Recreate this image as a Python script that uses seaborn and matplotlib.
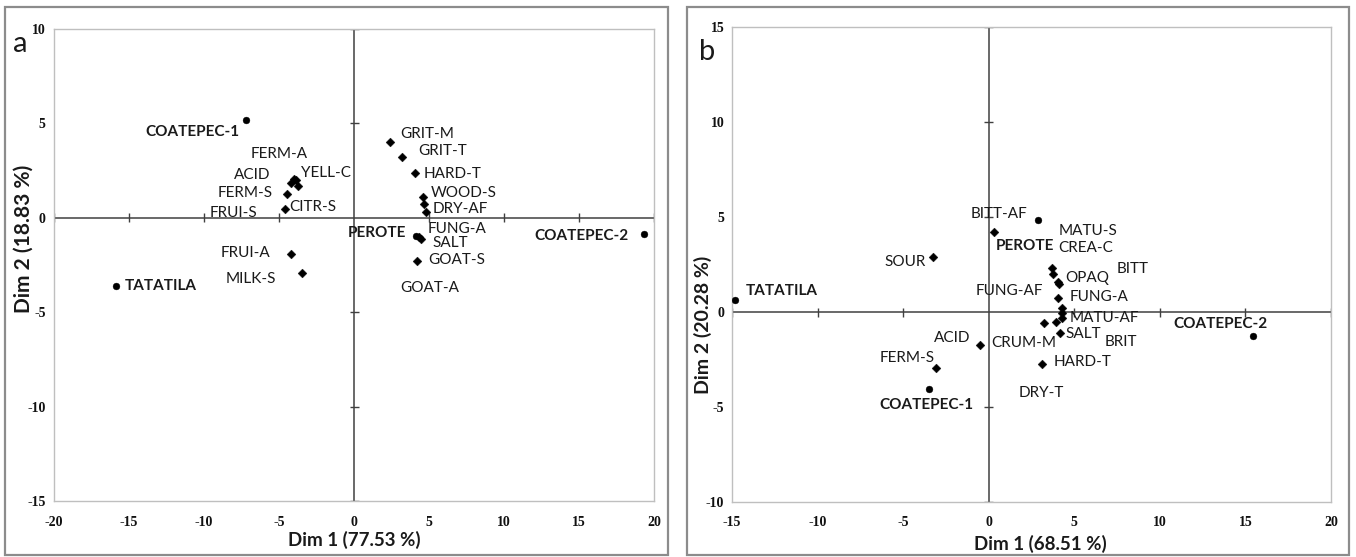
import matplotlib
matplotlib.use("Agg")
import matplotlib.pyplot as plt
from matplotlib.patches import Rectangle
import pandas as pd
import seaborn as sns

# ---- Panel a: PCA biplot (Dim 1 = 77.53 %, Dim 2 = 18.83 %) ----
a_attr_names = ["FERM-A", "ACID", "YELL-C", "FRUI-S", "FERM-S", "CITR-S",
                "FRUI-A", "MILK-S", "GRIT-M", "GRIT-T", "HARD-T", "WOOD-S",
                "DRY-AF", "FUNG-A", "SALT", "GOAT-S", "GOAT-A"]
a_attr_dim1 = [-4.00, -4.20, -3.87, -3.73, -4.47, -4.60,
               -4.20, -3.47, 2.40, 3.20, 4.07, 4.60,
               4.67, 4.80, 4.47, 4.20, 4.30]
a_attr_dim2 = [2.07, 1.86, 2.02, 1.70, 1.28, 0.48,
               -1.91, -2.93, 3.99, 3.24, 2.39, 1.12,
               0.74, 0.32, -1.12, -2.29, -1.00]
a_sample_names = ["COATEPEC-1", "TATATILA", "PEROTE", "COATEPEC-2"]
a_sample_dim1 = [-7.20, -15.90, 4.10, 19.30]
a_sample_dim2 = [5.20, -3.60, -0.95, -0.85]
a_xlabel = "Dim 1 (77.53 %)"
a_ylabel = "Dim 2 (18.83 %)"
a_xticks = [-20, -15, -10, -5, 0, 5, 10, 15, 20]
a_yticks = [-15, -10, -5, 0, 5, 10]

# ---- Panel b: PCA biplot (Dim 1 = 68.51 %, Dim 2 = 20.28 %) ----
b_attr_names = ["SOUR", "BITT-AF", "MATU-S", "CREA-C", "OPAQ", "BITT",
                "FUNG-A", "FUNG-AF", "MATU-AF", "BRIT", "DRY-T", "CRUM-M",
                "SALT", "HARD-T", "ACID", "FERM-S"]
b_attr_dim1 = [-3.27, 0.29, 3.68, 3.74, 4.03, 4.09,
               4.03, 4.26, 4.26, 4.26, 3.91, 3.21,
               4.14, 3.09, -0.53, -3.09]
b_attr_dim2 = [2.89, 4.21, 2.32, 2.00, 1.58, 1.47,
               0.74, 0.21, -0.05, -0.32, -0.53, -0.58,
               -1.11, -2.74, -1.74, -2.95]
b_sample_names = ["TATATILA", "PEROTE", "COATEPEC-1", "COATEPEC-2"]
b_sample_dim1 = [-14.83, 2.86, -3.50, 15.47]
b_sample_dim2 = [0.63, 4.84, -4.05, -1.26]
b_xlabel = "Dim 1 (68.51 %)"
b_ylabel = "Dim 2 (20.28 %)"
b_xticks = [-15, -10, -5, 0, 5, 10, 15, 20]
b_yticks = [-10, -5, 0, 5, 10, 15]

# Label placement: pixel offsets from each point and horizontal alignment
a_label_layout = {
    "FERM-A": (-43, 25, "left"), "ACID": (-57, 8, "left"), "YELL-C": (5, 7, "left"),
    "FRUI-S": (-88, -27, "left"), "FERM-S": (-69, 1, "left"), "CITR-S": (4, 2, "left"),
    "FRUI-A": (-70, 1, "left"), "MILK-S": (-76, -6, "left"), "GRIT-M": (10, 8, "left"),
    "GRIT-T": (16, 6, "left"), "HARD-T": (9, -1, "left"), "WOOD-S": (8, 4, "left"),
    "DRY-AF": (9, -5, "left"), "FUNG-A": (2, -17, "left"), "SALT": (11, -4, "left"),
    "GOAT-S": (11, 1, "left"), "GOAT-A": (-18, -51, "left"),
    "COATEPEC-1": (-6, -12, "right"), "TATATILA": (9, 0, "left"),
    "PEROTE": (-9, 3, "right"), "COATEPEC-2": (-15, -2, "right"),
}
b_label_layout = {
    "SOUR": (-7, -5, "right"), "BITT-AF": (-23, 18, "left"), "MATU-S": (7, 37, "left"),
    "CREA-C": (6, 26, "left"), "OPAQ": (8, 4, "left"), "BITT": (58, 15, "left"),
    "FUNG-A": (12, 1, "left"), "FUNG-AF": (-86, 17, "left"), "MATU-AF": (8, -5, "left"),
    "BRIT": (43, -24, "left"), "DRY-T": (-37, -71, "left"), "CRUM-M": (-52, -20, "left"),
    "SALT": (6, -1, "left"), "HARD-T": (12, 2, "left"), "ACID": (-46, 7, "left"),
    "FERM-S": (-56, 10, "left"),
    "TATATILA": (11, 9, "left"), "PEROTE": (-42, -26, "left"),
    "COATEPEC-1": (-49, -16, "left"), "COATEPEC-2": (-80, 12, "left"),
}

sns.set_theme(style="white")
plt.rcParams["font.family"] = ["Lato", "DejaVu Sans"]

W, H = 1356, 557
fig = plt.figure(figsize=(W / 100, H / 100), dpi=100)
fig.patch.set_facecolor("white")

TEXT = "#1a1a1a"
AXIS = "#404040"
FRAME = "#bfbfbf"


def px_box(left, top, right, bottom):
    return [left / W, 1 - bottom / H, (right - left) / W, (bottom - top) / H]


def draw_panel(rect, outer, letter, letter_xy, attr_names, attr_x, attr_y,
               samp_names, samp_x, samp_y, xticks, yticks, xlabel, ylabel,
               xlab_pos, ylab_pos, ylab_size, layout, xpad, ypad):
    # outer panel border
    ol, ot, orr, ob = outer
    fig.patches.append(Rectangle((ol / W, 1 - ob / H), (orr - ol) / W, (ob - ot) / H,
                                 transform=fig.transFigure, fill=False,
                                 edgecolor="#8c8c8c", linewidth=1.6, zorder=0))
    ax = fig.add_axes(rect)
    attrs = pd.DataFrame({"name": attr_names, "dim1": attr_x, "dim2": attr_y})
    samples = pd.DataFrame({"name": samp_names, "dim1": samp_x, "dim2": samp_y})

    ax.set_xlim(xticks[0], xticks[-1])
    ax.set_ylim(yticks[0], yticks[-1])
    ax.axhline(0, color=AXIS, lw=1.1, zorder=1)
    ax.axvline(0, color=AXIS, lw=1.1, zorder=1)

    # cross ticks on the zero lines
    fig.canvas.draw()
    tr = ax.transData
    px_per_x = (tr.transform((1, 0))[0] - tr.transform((0, 0))[0])
    px_per_y = (tr.transform((0, 1))[1] - tr.transform((0, 0))[1])
    hx = 4.5 / px_per_x
    hy = 4.5 / px_per_y
    tx = [t for t in xticks if t != 0]
    ty = [t for t in yticks if t != 0]
    ax.vlines(tx, -hy, hy, color=AXIS, lw=1.0, zorder=1)
    ax.hlines(ty, -hx, hx, color=AXIS, lw=1.0, zorder=1)

    sns.scatterplot(data=attrs, x="dim1", y="dim2", marker="D", s=20,
                    color="black", edgecolor="black", linewidth=0.3, ax=ax, zorder=3)
    sns.scatterplot(data=samples, x="dim1", y="dim2", marker="o", s=24,
                    color="black", edgecolor="black", linewidth=0.3, ax=ax, zorder=3)

    for _, r in attrs.iterrows():
        dx, dy, ha = layout[r["name"]]
        ax.annotate(r["name"], (r["dim1"], r["dim2"]), xytext=(dx, dy),
                    textcoords="offset pixels", ha=ha, va="center",
                    fontsize=11, color=TEXT, zorder=4)
    for _, r in samples.iterrows():
        dx, dy, ha = layout[r["name"]]
        ax.annotate(r["name"], (r["dim1"], r["dim2"]), xytext=(dx, dy),
                    textcoords="offset pixels", ha=ha, va="center",
                    fontsize=11, fontweight="bold", color=TEXT, zorder=4)

    ax.set_xticks(xticks)
    ax.set_yticks(yticks)
    ax.set_xticklabels([str(t) for t in xticks])
    ax.set_yticklabels([str(t) for t in yticks])
    ax.tick_params(length=0, colors="#111111")
    ax.tick_params(axis="x", pad=xpad)
    ax.tick_params(axis="y", pad=ypad)
    for lab in ax.get_xticklabels() + ax.get_yticklabels():
        lab.set_family(["Liberation Serif", "DejaVu Serif"])
        lab.set_fontweight("bold")
        lab.set_fontsize(10)
    for sp in ax.spines.values():
        sp.set_color(FRAME)
        sp.set_linewidth(1.0)

    ax.set_xlabel(xlabel, fontsize=13.5, fontweight="bold", color=TEXT)
    ax.set_ylabel(ylabel, fontsize=ylab_size, fontweight="bold", color=TEXT)
    ax.xaxis.set_label_coords(*xlab_pos)
    ax.yaxis.set_label_coords(*ylab_pos)
    ax.xaxis.label.set_va("center")
    ax.yaxis.label.set_va("center")

    fig.text(letter_xy[0] / W, 1 - letter_xy[1] / H, letter, fontsize=21,
             color=TEXT, ha="center", va="center")
    return ax


draw_panel(px_box(54, 29, 654, 501), (5, 7, 668, 555), "a", (20, 44),
           a_attr_names, a_attr_dim1, a_attr_dim2,
           a_sample_names, a_sample_dim1, a_sample_dim2,
           a_xticks, a_yticks, a_xlabel, a_ylabel,
           (0.50, -0.083), (-0.05, 0.555), 15, a_label_layout, 11, 6)

draw_panel(px_box(732, 27, 1331, 502), (687, 7, 1349, 555), "b", (707, 52),
           b_attr_names, b_attr_dim1, b_attr_dim2,
           b_sample_names, b_sample_dim1, b_sample_dim2,
           b_xticks, b_yticks, b_xlabel, b_ylabel,
           (0.514, -0.088), (-0.048, 0.373), 14, b_label_layout, 10, 5.5)

fig.savefig("out.png", dpi=100, facecolor="white")
